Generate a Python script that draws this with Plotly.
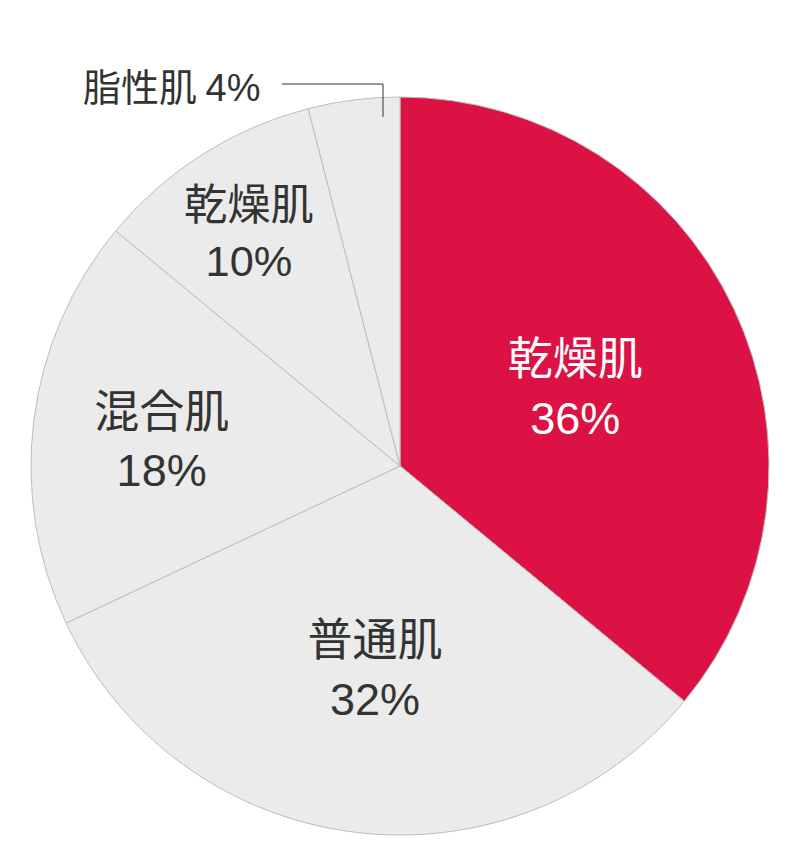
import plotly.graph_objects as go

# skin type survey
names = ["乾燥肌", "普通肌", "混合肌", "乾燥肌", "脂性肌"]
keys = ["dry_a", "normal", "combo", "dry_b", "oily"]
shares = [36, 32, 18, 10, 4]

# page body adds an 8px margin, so the figure is laid out 8px up/left
W, H = 800, 848
cx, cy, r = 392, 458, 369

colors = ["#DC1244", "#EBEBEB", "#EBEBEB", "#EBEBEB", "#EBEBEB"]
txt_colors = ["#FFFFFF", "#333333", "#333333", "#333333", "#333333"]

fig = go.Figure(go.Pie(
    labels=keys,
    values=shares,
    text=names,
    texttemplate="%{text}<br><span style='font-family:Liberation Sans'>%{value}%</span>",
    textposition=["inside", "inside", "inside", "inside", "none"],
    insidetextorientation="horizontal",
    textfont=dict(family="Noto Sans CJK JP", size=45, color=txt_colors),
    marker=dict(colors=colors, line=dict(color="#BDBDBD", width=1)),
    sort=False,
    direction="clockwise",
    rotation=0,
    hoverinfo="skip",
    showlegend=False,
    domain=dict(x=[(cx - r) / W, (cx + r) / W],
                y=[(H - cy - r) / H, (H - cy + r) / H]),
))

# outside label for the smallest slice, with a leader line
fig.add_annotation(
    x=254 / W, y=1 - 76 / H, xref="paper", yref="paper",
    xanchor="right", yanchor="middle", showarrow=False,
    text=f"{names[4]} <span style='font-family:Liberation Sans'>{shares[4]}%</span>",
    font=dict(family="Noto Sans CJK JP", size=38, color="#333333"),
)
fig.add_shape(type="path", xref="paper", yref="paper",
              path=f"M {274/W} {1-76/H} L {375/W} {1-76/H} L {375/W} {1-109/H}",
              line=dict(color="#333333", width=1))

fig.update_layout(
    width=W, height=H,
    margin=dict(l=0, r=0, t=0, b=0),
    paper_bgcolor="white",
    plot_bgcolor="white",
)

fig.write_html("out.html")
